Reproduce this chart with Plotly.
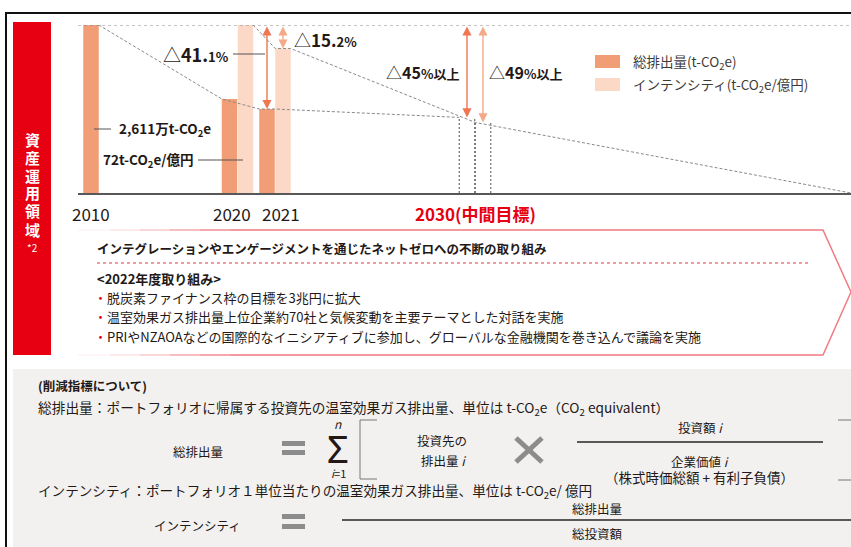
import plotly.graph_objects as go

# ---- chart values (bar heights relative to the 2010 total = 100) ----
YEARS = ["2010", "2020", "2021", "2030"]
TOTAL = [100, 56, 50, 45]          # 総排出量, 2030 is the target
INTENSITY = [None, 100, 86, 42]    # インテンシティ, 2030 is the target
NET_ZERO_2050 = 0
TOTAL_CUT = {"2021": ("41.", "1%"), "2030": ("45", "%以上")}
INTENSITY_CUT = {"2021": ("15.", "2%"), "2030": ("49", "%以上")}
YEAR_LABELS = ["2010", "2020", "2021", "2030(中間目標)"]
TOTAL_2010_TEXT = "2,611万t-CO<sub>2</sub>e"
INTENSITY_2020_TEXT = "72t-CO<sub>2</sub>e/億円"
LEGEND_NAMES = ["総排出量(t-CO<sub>2</sub>e)", "インテンシティ(t-CO<sub>2</sub>e/億円)"]

# ---- layout (pixels of the 851x547 page) ----
W, H = 851, 547
CHART_LEFT, BASE_Y, TOP_Y = 78, 193, 25
GROUP_X = {"2010": 99, "2020": 237.5, "2021": 275, "2030": 475}
HALF = 8      # offset of each bar from its group centre
BAR_W = 15.5
LABEL_X = {"2010": 91, "2020": 232, "2021": 280.5, "2030": 475}

DARK = "#F19D76"
LIGHT = "#FBD9C6"
ARROW_DARK = "#EF7650"
ARROW_LIGHT = "#F5AA87"
RED = "#E60012"
TXT = "#231815"
GRID = "#8A8A8A"
JP = "Noto Sans CJK JP"


def px(x):
    return x / W


def py(y):
    return 1 - y / H


fig = go.Figure()

t_x = {y: GROUP_X[y] - HALF for y in YEARS}
i_x = {y: GROUP_X[y] + HALF for y in YEARS}
e = BAR_W / 2

# actual bars (2010-2021)
fig.add_trace(go.Bar(x=[t_x[y] for y in YEARS[:3]], y=TOTAL[:3], width=BAR_W,
                     marker=dict(color=DARK, line_width=0)))
fig.add_trace(go.Bar(x=[i_x[y] for y in YEARS[1:3]], y=INTENSITY[1:3], width=BAR_W,
                     marker=dict(color=LIGHT, line_width=0)))

# 2030 targets as dotted outlines
for xc, v in ((t_x["2030"], TOTAL[3]), (i_x["2030"], INTENSITY[3])):
    fig.add_trace(go.Scatter(x=[xc - e, xc - e, None, xc + e, xc + e],
                             y=[0, v, None, 0, v], mode="lines",
                             line=dict(color="#6E6E6E", width=1.2, dash="2px,2px")))

# dashed trend lines
fig.add_trace(go.Scatter(
    x=[t_x["2010"] + e, t_x["2020"] - e, t_x["2021"] - e, t_x["2021"] + e, t_x["2030"] - e],
    y=[TOTAL[0], TOTAL[1], TOTAL[2], TOTAL[2], TOTAL[3]],
    mode="lines", line=dict(color=GRID, width=1, dash="3px,2px")))
fig.add_trace(go.Scatter(
    x=[i_x["2020"] + e, i_x["2021"] - e, i_x["2021"] + e, i_x["2030"] - e, W],
    y=[INTENSITY[1], INTENSITY[2], INTENSITY[2], INTENSITY[3], NET_ZERO_2050],
    mode="lines", line=dict(color=GRID, width=1, dash="3px,2px")))

# top reference line at the 2010 level
fig.add_shape(type="line", xref="paper", yref="y", x0=px(CHART_LEFT), x1=1,
              y0=TOTAL[0], y1=TOTAL[0], line=dict(color=GRID, width=1, dash="dot"))

# reduction arrows
for xs, vals, col in ((t_x, TOTAL, ARROW_DARK), (i_x, INTENSITY, ARROW_LIGHT)):
    for k, yr in enumerate(YEARS):
        if yr in ("2021", "2030"):
            fig.add_annotation(x=xs[yr], y=vals[k], ax=xs[yr], ay=TOTAL[0],
                               xref="x", yref="y", axref="x", ayref="y", text="",
                               showarrow=True, arrowside="end+start",
                               arrowhead=2, startarrowhead=2, arrowsize=1.3,
                               startarrowsize=1.3, arrowwidth=1.4, arrowcolor=col)


def note(text, x, y, size=12, color=TXT, xanchor="left", family=JP):
    fig.add_annotation(text=text, x=px(x), y=py(y), xref="paper", yref="paper",
                       xanchor=xanchor, yanchor="middle", showarrow=False,
                       font=dict(size=size, color=color, family=family))


def hline(x0, y0, x1, y1, color="#555555", width=1, dash=None):
    fig.add_shape(type="line", xref="paper", yref="paper", x0=px(x0), y0=py(y0),
                  x1=px(x1), y1=py(y1), line=dict(color=color, width=width, dash=dash))


def rect(x0, y0, x1, y1, fill, layer="above"):
    fig.add_shape(type="rect", xref="paper", yref="paper", x0=px(x0), y0=py(y0),
                  x1=px(x1), y1=py(y1), fillcolor=fill, line_width=0, layer=layer)


def cut_text(big, small):
    return ("△<b>%s</b><span style='font-size:13px'><b>%s</b></span>" % (big, small))


# reduction labels
note(cut_text(*TOTAL_CUT["2021"]), 231, 54, size=18, xanchor="right")
hline(233, 54, 265, 54)
note(cut_text(*INTENSITY_CUT["2021"]), 292, 40, size=17)
note(cut_text(*TOTAL_CUT["2030"]), 461, 72, size=16, xanchor="right")
note(cut_text(*INTENSITY_CUT["2030"]), 487, 72, size=16)

# value call-outs
hline(94, 129, 111, 129)
note("<b>%s</b>" % TOTAL_2010_TEXT, 117, 129, size=13.5)
note("<b>%s</b>" % INTENSITY_2020_TEXT, 195, 160, size=13.5, xanchor="right")
hline(198, 160, 243, 160)

# legend
rect(595, 55, 620, 68, DARK)
rect(595, 78, 620, 91, LIGHT)
note(LEGEND_NAMES[0], 631, 62, size=13.5, color="#3E3A39")
note(LEGEND_NAMES[1], 631, 85, size=13.5, color="#3E3A39")

# year labels
for yr, lab in zip(YEARS, YEAR_LABELS):
    if yr == "2030":
        note("<b>%s</b>" % lab, LABEL_X[yr], 213, size=17, color=RED, xanchor="center")
    else:
        note(lab, LABEL_X[yr], 213, size=17, xanchor="center")

# frame and red side band
fig.add_shape(type="rect", xref="paper", yref="paper", x0=px(6), y0=py(13),
              x1=px(880), y1=py(580), line=dict(color="#111111", width=2), layer="below")
rect(13, 22, 51, 355, RED)
for k, ch in enumerate("資産運用領域"):
    note("<b>%s</b>" % ch, 32, 139 + 18 * k, size=15, color="white", xanchor="center")
note("*2", 32, 247, size=10, color="white", xanchor="center")

# chevron box
steps = [(78, 0.08), (110, 0.2), (140, 0.4), (170, 0.65), (200, 0.85)]
for (xa, op), xb in zip(steps, [s[0] for s in steps[1:]] + [230]):
    for yy in (230, 355):
        fig.add_shape(type="line", xref="paper", yref="paper", x0=px(xa), x1=px(xb),
                      y0=py(yy), y1=py(yy), opacity=op, line=dict(color="#F07A80", width=1.5))
fig.add_shape(type="path", xref="paper", yref="paper",
              path="M %f,%f L %f,%f L %f,%f L %f,%f L %f,%f" % (
                  px(230), py(230), px(823), py(230), px(851), py(292),
                  px(823), py(355), px(230), py(355)),
              line=dict(color="#F07A80", width=1.5))
hline(97, 263, 810, 263, color="#F07A80", width=1.5, dash="dot")
note("<b>インテグレーションやエンゲージメントを通じたネットゼロへの不断の取り組み</b>",
     95, 249, size=12.5)
note("<b>&lt;2022年度取り組み&gt;</b>", 95, 278, size=13)
bullets = ["脱炭素ファイナンス枠の目標を3兆円に拡大",
           "温室効果ガス排出量上位企業約70社と気候変動を主要テーマとした対話を実施",
           "PRIやNZAOAなどの国際的なイニシアティブに参加し、グローバルな金融機関を巻き込んで議論を実施"]
for k, b in enumerate(bullets):
    note("<span style='color:%s'>・</span>%s" % (RED, b), 92, 297 + 19.5 * k, size=13)

# definitions panel
rect(13, 369, 860, 560, "#F3F1EF", layer="below")
note("<b>(削減指標について)</b>", 36, 385, size=12.5)
note("総排出量：ポートフォリオに帰属する投資先の温室効果ガス排出量、単位は t-CO<sub>2</sub>e"
     "（CO<sub>2</sub> equivalent）", 36, 408, size=13.7)
note("インテンシティ：ポートフォリオ１単位当たりの温室効果ガス排出量、単位は t-CO<sub>2</sub>e/ 億円",
     36, 491, size=13.6)

# formula for total emissions
note("総排出量", 198, 451, size=12.5, xanchor="center")
rect(282, 441, 305, 446, "#8C8C8C")
rect(282, 450, 305, 455, "#8C8C8C")
note("Σ", 338, 448, size=38, xanchor="center", family="Noto Sans")
note("<i>n</i>", 338, 423, size=12, xanchor="center")
note("<i>i</i>=1", 338, 473, size=11, xanchor="center")
fig.add_shape(type="path", xref="paper", yref="paper",
              path="M %f,%f L %f,%f L %f,%f L %f,%f" % (
                  px(377), py(420), px(360), py(420), px(360), py(479), px(377), py(479)),
              line=dict(color="#777777", width=1))
note("投資先の", 442, 440, size=12.5, xanchor="center")
note("排出量 <i>i</i>", 443, 460, size=12.5, xanchor="center")
hline(516, 438, 542, 462, color="#8C8C8C", width=5)
hline(516, 462, 542, 438, color="#8C8C8C", width=5)
note("投資額 <i>i</i>", 700, 427, size=12.5, xanchor="center")
hline(577, 442, 823, 442, color="#595757", width=2)
note("企業価値 <i>i</i>", 700, 461, size=12.5, xanchor="center")
note("（株式時価総額 + 有利子負債）", 699, 477, size=13.5, xanchor="center")
hline(838, 420, 851, 420, color="#777777")
hline(838, 480, 851, 480, color="#777777")

# formula for intensity
note("インテンシティ", 197, 525, size=12.5, xanchor="center")
rect(282, 514, 305, 519, "#8C8C8C")
rect(282, 524, 305, 529, "#8C8C8C")
hline(342, 520, 851, 520, color="#595757", width=2)
note("総排出量", 597, 508, size=12.5, xanchor="center")
note("総投資額", 597, 533, size=12.5, xanchor="center")

fig.update_layout(
    width=W, height=H, margin=dict(l=0, r=0, t=0, b=0),
    paper_bgcolor="white", plot_bgcolor="rgba(0,0,0,0)",
    showlegend=False, barmode="overlay", hovermode=False,
    font=dict(family=JP, color=TXT),
    xaxis=dict(domain=[px(CHART_LEFT), 1], range=[CHART_LEFT, W], showgrid=False,
               zeroline=False, showticklabels=False, ticks="",
               showline=True, linecolor="#595757", linewidth=1.5),
    yaxis=dict(domain=[py(BASE_Y), py(TOP_Y)], range=[0, TOTAL[0]], showgrid=False,
               zeroline=False, showticklabels=False, ticks="", showline=False),
)

fig.write_html("out.html", config={"displayModeBar": False},
               post_script="document.body.style.margin='0';"
                           "document.body.style.overflow='hidden';")
